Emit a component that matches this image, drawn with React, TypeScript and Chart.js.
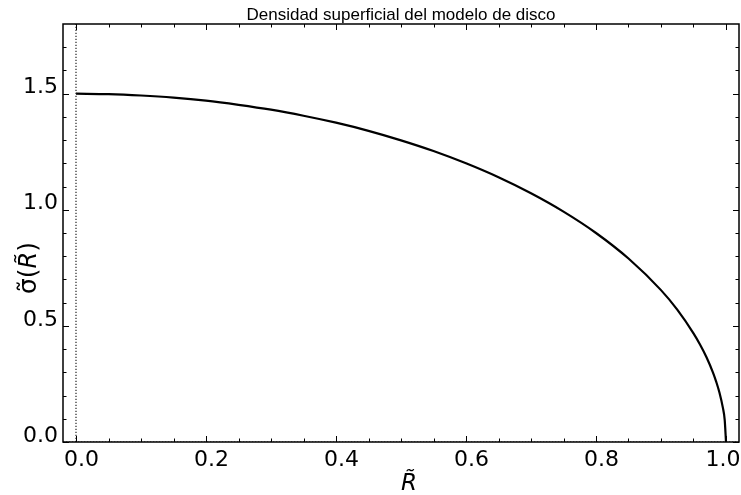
import React, { useEffect, useRef } from 'react';
import { Chart, registerables } from 'chart.js';

Chart.register(...registerables);

// Data
const rValues = [
  0, 0.05, 0.1, 0.15, 0.2, 0.25, 0.3, 0.35, 0.4, 0.45, 0.5, 0.55, 0.6, 0.65, 0.7,
  0.75, 0.8, 0.85, 0.9, 0.925, 0.95, 0.96, 0.97, 0.98, 0.985, 0.99, 0.995, 0.998, 1.0,
];
const sigmaValues = [
  1.5, 1.498, 1.492, 1.483, 1.47, 1.452, 1.431, 1.405, 1.375, 1.34, 1.299, 1.253, 1.2, 1.14, 1.071,
  0.992, 0.9, 0.79, 0.654, 0.57, 0.468, 0.42, 0.365, 0.299, 0.259, 0.212, 0.15, 0.095, 0,
];
const refLineX = [0, 0];
const refLineY = [0, 1.8];
const baseLineX = [-0.02, 1.02];
const baseLineY = [0, 0];

const xMajorTicks = [0, 0.2, 0.4, 0.6, 0.8, 1.0];
const xMinorTicks = [0.05, 0.1, 0.15, 0.25, 0.3, 0.35, 0.45, 0.5, 0.55, 0.65, 0.7, 0.75, 0.85, 0.9, 0.95];
const yMajorTicks = [0, 0.5, 1.0, 1.5];
const yMinorTicks = [0.1, 0.2, 0.3, 0.4, 0.6, 0.7, 0.8, 0.9, 1.1, 1.2, 1.3, 1.4, 1.6, 1.7];
const xTickLabels = ['0.0', '0.2', '0.4', '0.6', '0.8', '1.0'];

const titleText = 'Densidad superficial del modelo de disco';
const xLabel = 'R\u0303';
const yLabelParts = ['\u03C3\u0303(', 'R\u0303', ')'];

const TICK_FONT = "'DejaVu Sans'";

const framePlugin = {
  id: 'framePlugin',
  afterDraw(chart: any) {
    const { ctx, chartArea, scales } = chart;
    const { left, right, top, bottom } = chartArea;
    const x = scales.x;
    const y = scales.y;
    ctx.save();
    ctx.strokeStyle = '#000';
    ctx.lineWidth = 1.5;
    ctx.strokeRect(left, top, right - left, bottom - top);
    ctx.lineWidth = 1;
    const vTick = (v: number, len: number) => {
      const px = Math.round(x.getPixelForValue(v)) + 0.5;
      ctx.beginPath();
      ctx.moveTo(px, bottom);
      ctx.lineTo(px, bottom - len);
      ctx.moveTo(px, top);
      ctx.lineTo(px, top + len);
      ctx.stroke();
    };
    const hTick = (v: number, len: number) => {
      const py = Math.round(y.getPixelForValue(v)) + 0.5;
      ctx.beginPath();
      ctx.moveTo(left, py);
      ctx.lineTo(left + len, py);
      ctx.moveTo(right, py);
      ctx.lineTo(right - len, py);
      ctx.stroke();
    };
    xMajorTicks.forEach((v) => vTick(v, 6));
    xMinorTicks.forEach((v) => vTick(v, 3.5));
    yMajorTicks.forEach((v) => hTick(v, 6));
    yMinorTicks.forEach((v) => hTick(v, 3.5));

    ctx.fillStyle = '#000';
    // x tick labels (kept inside the canvas like the reference)
    ctx.font = `22px ${TICK_FONT}`;
    ctx.textAlign = 'left';
    ctx.textBaseline = 'alphabetic';
    xMajorTicks.forEach((v, i) => {
      const label = xTickLabels[i];
      const w = ctx.measureText(label).width;
      let start = x.getPixelForValue(v) + 5.5 - w / 2;
      if (start + w > chart.width - 0.5) start = chart.width - 0.5 - w;
      ctx.fillText(label, start, 466);
    });

    // title
    ctx.font = "17px 'Liberation Sans', Arial, sans-serif";
    ctx.textAlign = 'center';
    ctx.fillText(titleText, (left + right) / 2, 20);

    // x axis label
    ctx.font = `italic 23px ${TICK_FONT}`;
    ctx.fillText(xLabel, 409, 490);

    // y axis label (rotated)
    ctx.save();
    ctx.translate(36, 268);
    ctx.rotate(-Math.PI / 2);
    ctx.textAlign = 'left';
    const fonts = [`25px ${TICK_FONT}`, `italic 24px ${TICK_FONT}`, `25px ${TICK_FONT}`];
    let total = 0;
    const widths = yLabelParts.map((t, i) => {
      ctx.font = fonts[i];
      const w = ctx.measureText(t).width;
      total += w;
      return w;
    });
    let cx = -total / 2;
    yLabelParts.forEach((t, i) => {
      ctx.font = fonts[i];
      ctx.fillText(t, cx, 0);
      cx += widths[i];
    });
    ctx.restore();
    ctx.restore();
  },
};

function App() {
  const canvasRef = useRef<HTMLCanvasElement | null>(null);

  useEffect(() => {
    const canvas = canvasRef.current;
    if (!canvas) return;
    const curve = rValues.map((r, i) => ({ x: r, y: sigmaValues[i] }));
    const vLine = refLineX.map((v, i) => ({ x: v, y: refLineY[i] }));
    const hLine = baseLineX.map((v, i) => ({ x: v, y: baseLineY[i] }));

    const chart = new Chart(canvas, {
      type: 'line',
      data: {
        datasets: [
          {
            data: vLine,
            borderColor: '#222',
            borderWidth: 1.2,
            borderDash: [1.2, 1.8],
            pointRadius: 0,
            fill: false,
          },
          {
            data: hLine,
            borderColor: '#222',
            borderWidth: 1.2,
            borderDash: [1.2, 1.8],
            pointRadius: 0,
            fill: false,
          },
          {
            data: curve,
            borderColor: '#000',
            borderWidth: 2.2,
            pointRadius: 0,
            fill: false,
            cubicInterpolationMode: 'monotone',
          },
        ],
      },
      options: {
        animation: false,
        responsive: false,
        devicePixelRatio: 1,
        layout: { padding: { top: 24, right: 2, left: 0, bottom: 0 } },
        plugins: {
          legend: { display: false },
          tooltip: { enabled: false },
          title: { display: false },
        },
        scales: {
          x: {
            type: 'linear',
            min: -0.02,
            max: 1.02,
            afterBuildTicks: (scale: any) => {
              scale.ticks = xMajorTicks.map((v) => ({ value: v }));
            },
            afterFit: (scale: any) => {
              scale.height = 53;
              scale.paddingLeft = 0;
              scale.paddingRight = 0;
            },
            grid: { display: false, drawTicks: false },
            border: { display: false },
            ticks: { display: false },
          },
          y: {
            type: 'linear',
            min: 0,
            max: 1.8,
            afterBuildTicks: (scale: any) => {
              scale.ticks = yMajorTicks.map((v) => ({ value: v }));
            },
            afterFit: (scale: any) => {
              scale.width = 63;
              scale.paddingTop = 0;
              scale.paddingBottom = 0;
            },
            grid: { display: false, drawTicks: false },
            border: { display: false },
            ticks: {
              color: '#000',
              font: { family: TICK_FONT, size: 22 },
              padding: 5,
              labelOffset: -6,
              autoSkip: false,
              callback: (v: any) => Number(v).toFixed(1),
            },
          },
        },
      },
      plugins: [framePlugin],
    } as any);

    return () => chart.destroy();
  }, []);

  return (
    <div style={{ position: 'absolute', left: 0, top: 0, width: 741, height: 495, background: '#fff' }}>
      <canvas ref={canvasRef} width={741} height={495} style={{ width: 741, height: 495 }} />
    </div>
  );
}

export default App;
